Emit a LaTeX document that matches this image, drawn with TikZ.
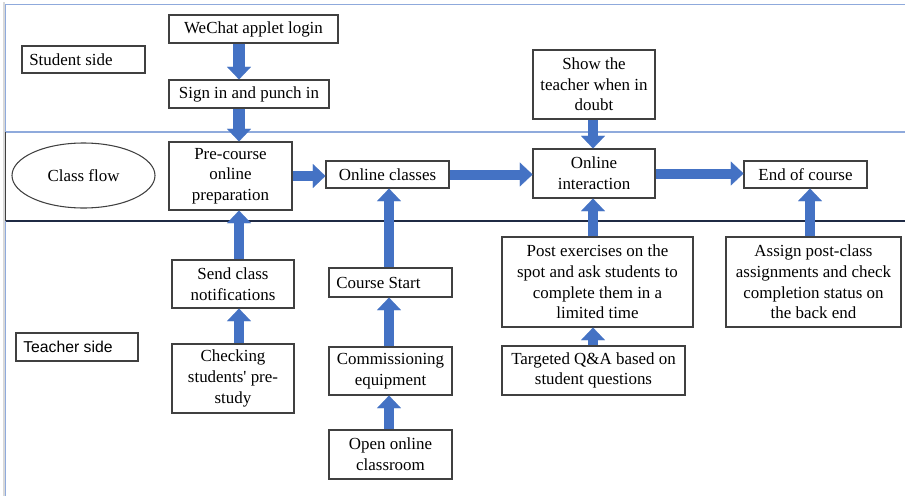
\documentclass[tikz,border=0pt]{standalone}
\usepackage{fontspec}
\setmainfont{Liberation Serif}
\newfontfamily\sansf{Liberation Sans}
\usetikzlibrary{arrows.meta,shapes.geometric}
\definecolor{arrowblue}{HTML}{4472C4}
\definecolor{lanelight}{HTML}{8FAADC}
\definecolor{lanedark}{HTML}{1F2A44}
\definecolor{boxgray}{HTML}{404040}
\definecolor{shadowgray}{HTML}{D9D9D9}
\begin{document}
\begin{tikzpicture}[x=0.75pt,y=-0.75pt,
  box/.style={draw=boxgray, line width=0.8pt, inner sep=0pt, align=center,
    font=\fontsize{12.7}{15.5}\selectfont},
  wh/.style 2 args={minimum width=#1*0.75pt, minimum height=#2*0.75pt},
  leftbox/.style={box, align=flush left, inner xsep=5.5pt, text width=#1*0.75pt-11pt},
  barrow/.style={draw=arrowblue, line width=7.5pt,
    -{Triangle[width=18pt,length=9.5pt,line width=0.1pt]}},
  lanelight/.style={draw=lanelight, line width=1.3pt},
  lanedark/.style={draw=lanedark, line width=1.1pt}]
\useasboundingbox (0,0) rectangle (905,496);
% swimlane frame
\draw[draw=shadowgray, line width=1.5pt] (3.5,2) -- (3.5,496);
\draw[lanelight] (5,4.5) -- (905,4.5);
\draw[lanelight] (5,132) -- (905,132);
\draw[lanedark] (5,221) -- (905,221);
\draw[lanelight] (5.5,4) -- (5.5,132);
\draw[draw=boxgray, line width=1pt] (5.5,132) -- (5.5,221);
\draw[lanelight] (5.5,221) -- (5.5,496);
% column coordinates for arrows
\coordinate (c1) at (239,0);
\coordinate (c2) at (389,0);
\coordinate (c3) at (593,0);
\coordinate (c4) at (810,0);
% nodes
\node[leftbox=123, wh={123}{27}] (student) at (83.5,59.5) {Student side};
\node[leftbox=122, wh={122}{28}, font=\sansf\fontsize{11.8}{14}\selectfont] (teacher) at (77,347) {Teacher side};
\node[draw=boxgray, line width=0.8pt, ellipse, inner sep=0pt, wh={143}{65},
  font=\fontsize{12.7}{15.5}\selectfont] (flow) at (83.5,175.5) {Class flow};
\node[box, wh={169}{28}] (wechat) at (253.5,29) {WeChat applet login};
\node[box, wh={160}{28}] (sign) at (249,94) {Sign in and punch in};
\node[box, wh={123}{68}] (pre) at (230.5,176) {Pre-course\\online\\preparation};
\node[box, wh={123}{27}] (online) at (387.5,174.5) {Online classes};
\node[box, wh={122}{69}] (show) at (594,84.5) {Show the\\teacher when in\\doubt};
\node[box, wh={122}{49}] (interact) at (594,173.5) {Online\\interaction};
\node[box, wh={123}{27}] (endc) at (805.5,174.5) {End of course};
\node[box, wh={122}{48}] (send) at (233,284) {Send class\\notifications};
\node[box, wh={122}{69}] (check) at (233,378.5) {Checking\\students\textquotesingle{} pre-\\study};
\node[leftbox=123, wh={123}{29}] (start) at (390.5,282.5) {Course Start};
\node[box, wh={123}{48}] (commission) at (390.5,371) {Commissioning\\equipment};
\node[box, wh={123}{49}] (open) at (390.5,454.5) {Open online\\classroom};
\node[box, wh={191}{90}] (post) at (597.5,282) {Post exercises on the\\spot and ask students to\\complete them in a\\limited time};
\node[box, wh={175}{90}] (assign) at (813.5,282) {Assign post-class\\assignments and check\\completion status on\\the back end};
\node[box, wh={183}{49}] (targeted) at (593.5,370.5) {Targeted Q\&A based on\\student questions};
% arrows
\draw[barrow, line width=9pt] (wechat.south -| c1) -- (sign.north -| c1);
\draw[barrow, line width=9pt] (sign.south -| c1) -- (pre.north -| c1);
\draw[barrow] (send.north -| c1) -- (pre.south -| c1);
\draw[barrow] (check.north -| c1) -- (send.south -| c1);
\draw[barrow] (pre.east) -- (pre.east -| online.west);
\draw[barrow] (online.east) -- (online.east -| interact.west);
\draw[barrow] (interact.east) -- (interact.east -| endc.west);
\draw[barrow] (start.north -| c2) -- (online.south -| c2);
\draw[barrow] (commission.north -| c2) -- (start.south -| c2);
\draw[barrow] (open.north -| c2) -- (commission.south -| c2);
\draw[barrow] (show.south -| c3) -- (interact.north -| c3);
\draw[barrow] (post.north -| c3) -- (interact.south -| c3);
\draw[barrow] (targeted.north -| c3) -- (post.south -| c3);
\draw[barrow] (assign.north -| c4) -- (endc.south -| c4);
\end{tikzpicture}
\end{document}
